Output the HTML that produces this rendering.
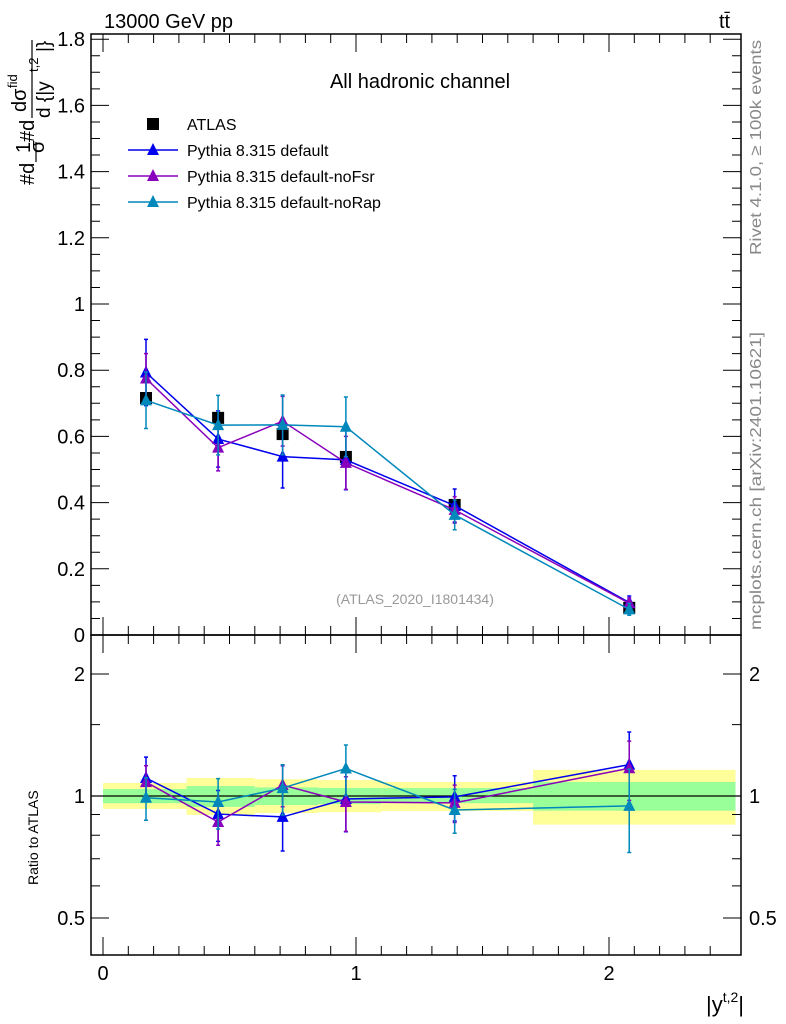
<!DOCTYPE html>
<html><head><meta charset="utf-8"><style>
body{margin:0;background:#fff;}
svg{display:block;font-family:"Liberation Sans",sans-serif;}
</style></head><body>
<svg id="chart" width="786" height="1024" viewBox="0 0 786 1024">
<g id="bands"></g>
<g id="marks"></g>
<g id="axes"></g>
<text x="104" y="28" font-size="20">13000 GeV pp</text>
<text x="719" y="28" font-size="20">tt̄</text>
<text x="420" y="88" font-size="20" text-anchor="middle">All hadronic channel</text>
<text x="415" y="604" font-size="14" fill="#999" text-anchor="middle">(ATLAS_2020_I1801434)</text>
<text transform="translate(761,255) rotate(-90)" font-size="16" fill="#888" textLength="215" lengthAdjust="spacingAndGlyphs">Rivet 4.1.0, ≥ 100k events</text>
<text transform="translate(761,630) rotate(-90)" font-size="16" fill="#888" textLength="298" lengthAdjust="spacingAndGlyphs">mcplots.cern.ch [arXiv:2401.10621]</text>
<g>
<text transform="translate(34,185) rotate(-90)" font-size="20">#d</text>
<text transform="translate(30,153) rotate(-90)" font-size="20">1</text>
<text transform="translate(44,153) rotate(-90)" font-size="20">σ</text>
<line x1="36" y1="162" x2="36" y2="142" stroke="#000" stroke-width="1.2"/>
<text transform="translate(34,142) rotate(-90)" font-size="20">#d</text>
<text transform="translate(26,112) rotate(-90)" font-size="20">dσ</text>
<text transform="translate(17,88) rotate(-90)" font-size="13">fid</text>
<line x1="32" y1="118" x2="32" y2="40" stroke="#000" stroke-width="1.2"/>
<text transform="translate(50,118) rotate(-90)" font-size="19">d {|y</text>
<text transform="translate(38,72) rotate(-90)" font-size="13">t,2</text>
<text transform="translate(50,52) rotate(-90)" font-size="19">|}</text>
</g>
<text transform="translate(38,885) rotate(-90)" font-size="14">Ratio to ATLAS</text>
<text x="744" y="1012" font-size="22" text-anchor="end">|y<tspan font-size="14" dy="-10">t,2</tspan><tspan dy="10">|</tspan></text>
<g id="legend"></g>
</svg>
<script>
const binEdges=[0,0.33,0.6,0.85,1.1,1.7,2.5];
const xCenters=[0.17,0.455,0.71,0.96,1.39,2.08];
const atlas=[0.716,0.656,0.607,0.538,0.393,0.082];
const bandYellowHi=[1.077,1.108,1.10,1.095,1.083,1.16];
const bandYellowLo=[0.929,0.898,0.908,0.912,0.918,0.85];
const bandGreenHi=[1.04,1.058,1.05,1.047,1.046,1.083];
const bandGreenLo=[0.96,0.94,0.95,0.955,0.96,0.92];
const defVals=[0.793,0.592,0.539,0.529,0.391,0.098];
const defErr=[0.10,0.085,0.095,0.09,0.05,0.02];
const noFsrVals=[0.775,0.566,0.646,0.52,0.378,0.096];
const noFsrErr=[0.075,0.07,0.075,0.08,0.04,0.016];
const noRapVals=[0.709,0.634,0.635,0.629,0.363,0.0775];
const noRapErr=[0.085,0.09,0.09,0.09,0.045,0.018];
const yTicks=[0,0.2,0.4,0.6,0.8,1,1.2,1.4,1.6,1.8];
const yTickLabels=["0","0.2","0.4","0.6","0.8","1","1.2","1.4","1.6","1.8"];
const rTicks=[0.5,1,2];
const rTickLabels=["0.5","1","2"];
const xTicks=[0,1,2];
const xTickLabels=["0","1","2"];

const NS="http://www.w3.org/2000/svg";
const L=91,R=741,T=34,MB=635,RB=955;
const X=v=>103+v*253;
const Y=v=>635-v*331;
const RY=v=>796-Math.log2(v)*122;
function mk(parent,tag,attrs){const e=document.createElementNS(NS,tag);for(const k in attrs)e.setAttribute(k,attrs[k]);document.getElementById(parent).appendChild(e);return e;}

for(let i=0;i<xCenters.length;i++){
  const x1=X(binEdges[i]),x2=X(binEdges[i+1]);
  const y=mk('bands','rect',{x:x1,y:RY(bandYellowHi[i]),width:x2-x1,height:RY(bandYellowLo[i])-RY(bandYellowHi[i]),fill:'#ffff99'});
  
  
  const g=mk('bands','rect',{x:x1,y:RY(bandGreenHi[i]),width:x2-x1,height:RY(bandGreenLo[i])-RY(bandGreenHi[i]),fill:'#99ff99'});
  
  
}
const ref=mk('bands','line',{x1:L,x2:R,y1:RY(1),y2:RY(1),stroke:'#000','stroke-width':1.3});



function tri(x,y,c,name){const p=mk('marks','polygon',{points:`${x},${y-7} ${x-6},${y+5} ${x+6},${y+5}`,fill:c});

}
function series(vals,errs,c,name){
  let pts=[],rpts=[];
  for(let i=0;i<vals.length;i++){
    const x=X(xCenters[i]);
    pts.push(x+','+Y(vals[i]));
    const r=vals[i]/atlas[i],re=errs[i]/atlas[i];
    rpts.push(x+','+RY(r));
    [[Y(vals[i]-errs[i]),Y(vals[i]+errs[i])],[RY(r-re),RY(r+re)]].forEach(([a,b])=>{
      const e=mk('marks','path',{d:`M${x},${a}V${b}M${x-2},${a}h4M${x-2},${b}h4`,stroke:c,'stroke-width':1.5,fill:'none'});
      
      
    });
  }
  const l=mk('marks','polyline',{points:pts.join(' '),stroke:c,'stroke-width':1.5,fill:'none'});
  
  
  const rl=mk('marks','polyline',{points:rpts.join(' '),stroke:c,'stroke-width':1.5,fill:'none'});
  
  
  for(let i=0;i<vals.length;i++){tri(X(xCenters[i]),Y(vals[i]),c,name+'-point');tri(X(xCenters[i]),RY(vals[i]/atlas[i]),c,name+'-ratio-point');}
}
for(let i=0;i<atlas.length;i++){
  const s=mk('marks','rect',{x:X(xCenters[i])-6,y:Y(atlas[i])-6,width:12,height:12,fill:'#000'});
  
  
}
series(defVals,defErr,'#0000ee','default');
series(noFsrVals,noFsrErr,'#8800bb','nofsr');
series(noRapVals,noRapErr,'#0088bb','norap');

[[T,MB],[MB,RB]].forEach(([a,b])=>{const f=mk('axes','rect',{x:L,y:a,width:R-L,height:b-a,fill:'none',stroke:'#000','stroke-width':1.5});

});
for(let v=0;v<=1.81;v+=0.05){const y=Y(v);const len=(Math.round(v*100)%20===0)?18:9;
 mk('axes','path',{d:`M${L},${y}h${len}M${R},${y}h${-len}`,stroke:'#000','stroke-width':1});}
yTicks.forEach((v,i)=>{const t=mk('axes','text',{x:L-6,y:Y(v)+7,'font-size':20,'text-anchor':'end'});t.textContent=yTickLabels[i];

});
[0.4,0.6,0.7,0.8,0.9,3,1.5].forEach(v=>{const y=RY(v);if(y>MB&&y<RB)mk('axes','path',{d:`M${L},${y}h9M${R},${y}h-9`,stroke:'#000','stroke-width':1});});
rTicks.forEach((v,i)=>{const y=RY(v);mk('axes','path',{d:`M${L},${y}h18M${R},${y}h-18`,stroke:'#000','stroke-width':1});
 const t=mk('axes','text',{x:L-6,y:y+7,'font-size':20,'text-anchor':'end'});t.textContent=rTickLabels[i];
 
 
 const t2=mk('axes','text',{x:R+8,y:y+7,'font-size':20});t2.textContent=rTickLabels[i];
 
 });
for(let v=0;v<=2.5;v+=0.1){const x=X(v);const len=(Math.round(v*10)%10===0)?18:9;
 mk('axes','path',{d:`M${x},${MB}v${-len}M${x},${T}v${len}M${x},${RB}v${-len}M${x},${MB}v${len}`,stroke:'#000','stroke-width':1});}
xTicks.forEach((v,i)=>{const t=mk('axes','text',{x:X(v),y:980,'font-size':20,'text-anchor':'middle'});t.textContent=xTickLabels[i];

});

const legItems=[['ATLAS','#000','sq'],['Pythia 8.315 default','#0000ee','tri'],['Pythia 8.315 default-noFsr','#8800bb','tri'],['Pythia 8.315 default-noRap','#0088bb','tri']];
legItems.forEach((it,i)=>{const y=124+i*26;
 if(it[2]==='sq'){mk('legend','rect',{x:147,y:y-6,width:12,height:12,fill:'#000'});}
 else{mk('legend','line',{x1:128,x2:178,y1:y,y2:y,stroke:it[1],'stroke-width':1.5});
  mk('legend','polygon',{points:`153,${y-7} 147,${y+5} 159,${y+5}`,fill:it[1]});}
 const t=mk('legend','text',{x:187,y:y+6,'font-size':16});t.textContent=it[0];
 
 });
</script>
</body></html>
